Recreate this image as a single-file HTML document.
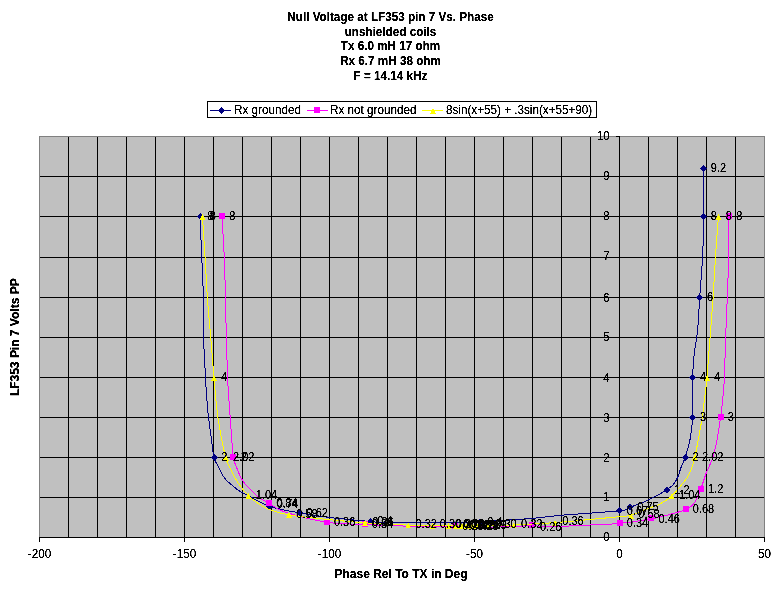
<!DOCTYPE html>
<html lang="en"><head><meta charset="utf-8"><title>Null Voltage at LF353 pin 7 Vs. Phase</title>
<style>html,body{margin:0;padding:0;background:#fff;overflow:hidden}svg{display:block}text{font-family:"Liberation Sans", Arial, sans-serif;font-size:11.7px;fill:#000}.b{font-weight:bold;font-size:11.7px}.ln{fill:none;stroke-width:1;shape-rendering:crispEdges}.g{shape-rendering:crispEdges}</style></head><body>
<svg width="777" height="590" viewBox="0 0 777 590">
<rect x="0" y="0" width="777" height="590" fill="#fff"/>
<defs><filter id="c" x="0" y="0" width="777" height="590" filterUnits="userSpaceOnUse" color-interpolation-filters="sRGB"><feComponentTransfer><feFuncA type="linear" slope="3" intercept="-0.6"/></feComponentTransfer></filter></defs>
<rect class="g" x="207.5" y="101.5" width="389" height="16" fill="#fff" stroke="#000" stroke-width="1"/>
<line class="ln" x1="210" y1="110.5" x2="231" y2="110.5" stroke="#000080"/>
<path class="g" d="M221 107h1v1h1v1h1v3h-1v1h-1v1h-1v-1h-1v-1h-1v-3h1v-1h1z" fill="#000080"/>
<line class="ln" x1="307" y1="110.5" x2="328" y2="110.5" stroke="#ff00ff"/>
<rect class="g" x="314" y="107.0" width="6" height="6" fill="#ff00ff"/>
<line class="ln" x1="422" y1="110.5" x2="443" y2="110.5" stroke="#ffff00"/>
<path class="g" d="M433 107.8 l3 6 h-6 z" fill="#ffff00"/>
<rect x="39" y="136" width="726" height="402" fill="#c0c0c0"/>
<g class="g" fill="#000">
<rect x="68" y="136" width="1" height="402"/>
<rect x="97" y="136" width="1" height="402"/>
<rect x="126" y="136" width="1" height="402"/>
<rect x="155" y="136" width="1" height="402"/>
<rect x="184" y="136" width="1" height="402"/>
<rect x="213" y="136" width="1" height="402"/>
<rect x="242" y="136" width="1" height="402"/>
<rect x="271" y="136" width="1" height="402"/>
<rect x="300" y="136" width="1" height="402"/>
<rect x="329" y="136" width="1" height="402"/>
<rect x="358" y="136" width="1" height="402"/>
<rect x="387" y="136" width="1" height="402"/>
<rect x="416" y="136" width="1" height="402"/>
<rect x="445" y="136" width="1" height="402"/>
<rect x="474" y="136" width="1" height="402"/>
<rect x="503" y="136" width="1" height="402"/>
<rect x="532" y="136" width="1" height="402"/>
<rect x="561" y="136" width="1" height="402"/>
<rect x="590" y="136" width="1" height="402"/>
<rect x="619" y="136" width="1" height="402"/>
<rect x="648" y="136" width="1" height="402"/>
<rect x="677" y="136" width="1" height="402"/>
<rect x="706" y="136" width="1" height="402"/>
<rect x="735" y="136" width="1" height="402"/>
<rect x="39" y="176" width="726" height="1"/>
<rect x="39" y="216" width="726" height="1"/>
<rect x="39" y="257" width="726" height="1"/>
<rect x="39" y="297" width="726" height="1"/>
<rect x="39" y="337" width="726" height="1"/>
<rect x="39" y="377" width="726" height="1"/>
<rect x="39" y="417" width="726" height="1"/>
<rect x="39" y="457" width="726" height="1"/>
<rect x="39" y="497" width="726" height="1"/>
</g>
<g class="g" fill="#808080">
<rect x="39" y="136" width="726" height="1"/>
<rect x="39" y="136" width="1" height="402"/>
<rect x="764" y="136" width="1" height="402"/>
</g>
<g class="g" fill="#000">
<rect x="39" y="537" width="726" height="1"/>
<rect x="619" y="136" width="1" height="402"/>
<rect x="39" y="537" width="1" height="5"/>
<rect x="184" y="537" width="1" height="5"/>
<rect x="329" y="537" width="1" height="5"/>
<rect x="474" y="537" width="1" height="5"/>
<rect x="619" y="537" width="1" height="5"/>
<rect x="764" y="537" width="1" height="5"/>
<rect x="616" y="136" width="4" height="1"/>
<rect x="616" y="176" width="4" height="1"/>
<rect x="616" y="216" width="4" height="1"/>
<rect x="616" y="257" width="4" height="1"/>
<rect x="616" y="297" width="4" height="1"/>
<rect x="616" y="337" width="4" height="1"/>
<rect x="616" y="377" width="4" height="1"/>
<rect x="616" y="417" width="4" height="1"/>
<rect x="616" y="457" width="4" height="1"/>
<rect x="616" y="497" width="4" height="1"/>
<rect x="616" y="537" width="4" height="1"/>
</g>
<path class="ln" d="M200.0 216.5 C200.3 223.8 201.3 246.5 201.9 260.0 C202.5 273.5 203.1 285.0 203.4 297.5 C203.7 310.0 203.2 321.7 203.5 335.0 C203.8 348.3 204.9 365.8 205.5 377.5 C206.1 389.2 206.8 398.3 207.3 405.0 C207.8 411.7 207.9 411.7 208.6 417.5 C209.3 423.3 210.6 433.3 211.5 440.0 C212.4 446.7 213.0 453.3 214.0 457.5 C215.0 461.7 215.7 461.6 217.4 465.0 C219.2 468.4 222.2 474.8 224.5 478.0 C226.8 481.2 228.3 482.1 230.9 484.3 C233.5 486.5 237.1 489.5 239.9 491.4 C242.8 493.3 243.1 493.0 248.0 495.5 C252.9 498.0 260.9 503.5 269.5 506.4 C278.1 509.3 289.4 511.0 299.3 512.8 C309.2 514.6 317.2 515.9 329.0 517.4 C340.8 518.9 360.3 520.6 370.0 521.5 C379.7 522.4 379.3 522.5 387.0 522.7 C394.7 522.9 406.3 522.7 416.0 522.6 C425.7 522.5 434.3 522.4 445.0 522.3 C455.7 522.2 470.3 522.1 480.0 521.8 C489.7 521.5 494.3 521.0 503.0 520.4 C511.7 519.8 522.3 519.2 532.0 518.4 C541.7 517.5 546.4 516.6 561.0 515.3 C575.6 514.0 608.0 512.1 619.5 510.8 C631.0 509.5 625.2 509.1 630.0 507.3 C634.8 505.5 641.8 503.1 648.0 500.2 C654.2 497.3 662.7 492.4 667.0 489.7 C671.3 487.0 671.9 486.1 673.7 484.0 C675.5 481.9 676.7 479.6 677.9 476.8 C679.1 474.0 679.9 470.5 681.1 467.3 C682.3 464.1 683.6 462.3 685.1 457.5 C686.6 452.7 689.0 445.3 690.2 438.6 C691.5 431.9 692.2 427.7 692.6 417.5 C693.0 407.3 692.4 387.9 692.6 377.5 C692.9 367.1 693.3 362.9 694.1 355.0 C694.9 347.1 696.7 339.6 697.6 330.0 C698.5 320.4 698.9 310.0 699.7 297.5 C700.6 285.0 702.1 268.5 702.7 255.0 C703.3 241.5 703.4 230.9 703.5 216.5 C703.6 202.1 703.5 176.5 703.5 168.5" stroke="#000080"/>
<path class="g" d="M196.5 216.5 l3.5 -3.5 l3.5 3.5 l-3.5 3.5 z" fill="#000080"/>
<path class="g" d="M210.5 457.5 l3.5 -3.5 l3.5 3.5 l-3.5 3.5 z" fill="#000080"/>
<path class="g" d="M266.0 506.4 l3.5 -3.5 l3.5 3.5 l-3.5 3.5 z" fill="#000080"/>
<path class="g" d="M295.8 512.8 l3.5 -3.5 l3.5 3.5 l-3.5 3.5 z" fill="#000080"/>
<path class="g" d="M366.5 521.5 l3.5 -3.5 l3.5 3.5 l-3.5 3.5 z" fill="#000080"/>
<path class="g" d="M476.5 521.8 l3.5 -3.5 l3.5 3.5 l-3.5 3.5 z" fill="#000080"/>
<path class="g" d="M616.0 510.8 l3.5 -3.5 l3.5 3.5 l-3.5 3.5 z" fill="#000080"/>
<path class="g" d="M626.5 507.3 l3.5 -3.5 l3.5 3.5 l-3.5 3.5 z" fill="#000080"/>
<path class="g" d="M663.5 489.7 l3.5 -3.5 l3.5 3.5 l-3.5 3.5 z" fill="#000080"/>
<path class="g" d="M681.6 457.5 l3.5 -3.5 l3.5 3.5 l-3.5 3.5 z" fill="#000080"/>
<path class="g" d="M689.1 417.5 l3.5 -3.5 l3.5 3.5 l-3.5 3.5 z" fill="#000080"/>
<path class="g" d="M689.1 377.5 l3.5 -3.5 l3.5 3.5 l-3.5 3.5 z" fill="#000080"/>
<path class="g" d="M696.2 297.5 l3.5 -3.5 l3.5 3.5 l-3.5 3.5 z" fill="#000080"/>
<path class="g" d="M700.0 216.5 l3.5 -3.5 l3.5 3.5 l-3.5 3.5 z" fill="#000080"/>
<path class="g" d="M700.0 168.5 l3.5 -3.5 l3.5 3.5 l-3.5 3.5 z" fill="#000080"/>
<path class="ln" d="M222.0 216.5 C222.4 223.8 223.8 246.5 224.4 260.0 C225.0 273.5 225.1 285.0 225.4 297.5 C225.7 310.0 225.9 321.7 226.3 335.0 C226.7 348.3 227.1 365.8 227.6 377.5 C228.1 389.2 228.9 398.3 229.3 405.0 C229.7 411.7 229.8 411.7 230.2 417.5 C230.6 423.3 231.3 433.4 231.8 440.0 C232.3 446.6 232.8 453.1 233.4 457.3 C234.0 461.5 234.1 461.1 235.6 465.0 C237.1 468.9 239.8 476.1 242.5 480.4 C245.2 484.7 248.5 487.7 251.5 490.7 C254.5 493.7 257.6 496.4 260.5 498.5 C263.4 500.6 264.8 500.9 268.9 503.2 C273.0 505.4 275.4 508.8 285.0 512.0 C294.6 515.2 313.4 520.1 326.6 522.2 C339.9 524.3 348.9 523.8 364.5 524.5 C380.1 525.2 403.2 526.1 420.0 526.5 C436.8 526.9 451.7 526.7 465.0 526.8 C478.3 526.9 488.9 527.2 500.0 527.0 C511.1 526.8 523.4 525.8 531.7 525.8 C540.0 525.8 540.3 526.8 550.0 526.7 C559.7 526.6 578.4 525.5 590.0 525.0 C601.6 524.5 609.3 524.4 619.5 523.4 C629.7 522.4 642.8 520.4 651.2 518.9 C659.6 517.4 664.3 515.9 670.0 514.4 C675.7 512.9 681.7 511.2 685.5 509.6 C689.3 508.0 691.1 506.7 693.0 504.7 C694.9 502.7 695.7 500.3 697.0 497.7 C698.3 495.1 699.5 492.6 700.7 489.3 C702.0 486.0 703.5 480.9 704.5 478.0 C705.5 475.1 705.2 475.4 706.6 472.0 C708.0 468.6 711.0 463.1 712.8 457.5 C714.6 451.9 716.0 445.3 717.3 438.6 C718.6 431.9 719.6 423.9 720.5 417.5 C721.4 411.1 722.1 406.7 722.7 400.0 C723.4 393.3 723.9 388.3 724.4 377.5 C724.9 366.7 725.2 348.3 725.7 335.0 C726.2 321.7 726.8 310.8 727.3 297.5 C727.8 284.2 728.4 268.5 728.7 255.0 C729.0 241.5 729.0 222.9 729.0 216.5" stroke="#ff00ff"/>
<rect class="g" x="219" y="213.0" width="6" height="6" fill="#ff00ff"/>
<rect class="g" x="230.4" y="453.8" width="6" height="6" fill="#ff00ff"/>
<rect class="g" x="265.9" y="499.7" width="6" height="6" fill="#ff00ff"/>
<rect class="g" x="323.6" y="518.7" width="6" height="6" fill="#ff00ff"/>
<rect class="g" x="361.5" y="521.0" width="6" height="6" fill="#ff00ff"/>
<rect class="g" x="452" y="522.9" width="6" height="6" fill="#ff00ff"/>
<rect class="g" x="467" y="523.0" width="6" height="6" fill="#ff00ff"/>
<rect class="g" x="528.7" y="522.3" width="6" height="6" fill="#ff00ff"/>
<rect class="g" x="616.5" y="519.9" width="6" height="6" fill="#ff00ff"/>
<rect class="g" x="648.2" y="515.4" width="6" height="6" fill="#ff00ff"/>
<rect class="g" x="682.5" y="506.1" width="6" height="6" fill="#ff00ff"/>
<rect class="g" x="697.7" y="485.8" width="6" height="6" fill="#ff00ff"/>
<rect class="g" x="717.5" y="414.0" width="6" height="6" fill="#ff00ff"/>
<rect class="g" x="726" y="213.0" width="6" height="6" fill="#ff00ff"/>
<path class="ln" d="M202.5 216.5 C202.9 223.8 204.4 246.5 205.2 260.0 C206.0 273.5 206.5 285.0 207.4 297.5 C208.3 310.0 209.4 321.7 210.5 335.0 C211.6 348.3 213.0 365.8 214.0 377.5 C215.0 389.2 215.7 398.3 216.4 405.0 C217.1 411.7 217.1 411.7 218.0 417.5 C218.9 423.3 220.5 433.3 221.8 440.0 C223.1 446.7 224.6 453.3 225.7 457.5 C226.8 461.7 226.7 461.0 228.6 465.0 C230.5 469.0 234.0 476.6 237.3 481.7 C240.6 486.8 244.6 492.0 248.5 495.9 C252.4 499.8 257.0 502.6 260.5 504.9 C264.0 507.2 264.8 507.8 269.5 509.5 C274.2 511.2 279.1 513.3 289.0 515.0 C298.9 516.7 316.3 518.3 329.0 519.6 C341.7 520.9 351.8 521.9 365.0 522.8 C378.2 523.7 396.9 524.7 408.2 525.1 C419.4 525.5 425.8 525.2 432.5 525.3 C439.2 525.4 439.2 525.5 448.5 525.5 C457.8 525.5 477.1 525.6 488.0 525.5 C498.9 525.4 506.4 525.2 513.7 525.0 C521.0 524.8 525.1 524.4 532.0 524.0 C538.9 523.6 545.3 523.4 555.0 522.6 C564.7 521.9 579.3 520.5 590.0 519.5 C600.7 518.5 612.2 517.4 619.0 516.7 C625.8 516.0 626.2 516.6 631.0 515.3 C635.8 513.9 643.2 510.5 648.0 508.6 C652.8 506.7 656.0 506.1 660.0 504.0 C664.0 501.9 668.5 498.8 671.8 495.9 C675.1 493.0 677.5 489.7 680.0 486.7 C682.5 483.7 685.2 480.5 687.0 477.7 C688.8 474.9 689.7 473.4 691.0 470.0 C692.3 466.6 693.4 462.8 694.7 457.5 C696.0 452.2 697.4 444.7 698.6 438.0 C699.9 431.3 701.2 423.8 702.2 417.5 C703.2 411.2 703.6 406.7 704.4 400.0 C705.2 393.3 706.0 389.2 707.0 377.5 C708.0 365.8 709.6 343.3 710.6 330.0 C711.6 316.7 712.3 310.0 713.1 297.5 C713.9 285.0 714.7 268.5 715.6 255.0 C716.5 241.5 717.9 222.9 718.4 216.5" stroke="#ffff00"/>
<path class="g" d="M202.5 213.8 l3 6 h-6 z" fill="#ffff00"/>
<path class="g" d="M214 374.8 l3 6 h-6 z" fill="#ffff00"/>
<path class="g" d="M225.7 454.8 l3 6 h-6 z" fill="#ffff00"/>
<path class="g" d="M248.5 493.2 l3 6 h-6 z" fill="#ffff00"/>
<path class="g" d="M289 512.3 l3 6 h-6 z" fill="#ffff00"/>
<path class="g" d="M365 520.0999999999999 l3 6 h-6 z" fill="#ffff00"/>
<path class="g" d="M408.2 522.4 l3 6 h-6 z" fill="#ffff00"/>
<path class="g" d="M432.5 522.5999999999999 l3 6 h-6 z" fill="#ffff00"/>
<path class="g" d="M448.5 522.6999999999999 l3 6 h-6 z" fill="#ffff00"/>
<path class="g" d="M456 522.9 l3 6 h-6 z" fill="#ffff00"/>
<path class="g" d="M462 523.0 l3 6 h-6 z" fill="#ffff00"/>
<path class="g" d="M467 523.0999999999999 l3 6 h-6 z" fill="#ffff00"/>
<path class="g" d="M472 523.0999999999999 l3 6 h-6 z" fill="#ffff00"/>
<path class="g" d="M478 523.0 l3 6 h-6 z" fill="#ffff00"/>
<path class="g" d="M488 522.6999999999999 l3 6 h-6 z" fill="#ffff00"/>
<path class="g" d="M513.7 522.3 l3 6 h-6 z" fill="#ffff00"/>
<path class="g" d="M555 519.9 l3 6 h-6 z" fill="#ffff00"/>
<path class="g" d="M631 512.5999999999999 l3 6 h-6 z" fill="#ffff00"/>
<path class="g" d="M671.8 493.2 l3 6 h-6 z" fill="#ffff00"/>
<path class="g" d="M694.7 454.8 l3 6 h-6 z" fill="#ffff00"/>
<path class="g" d="M707 374.8 l3 6 h-6 z" fill="#ffff00"/>
<path class="g" d="M718.4 213.8 l3 6 h-6 z" fill="#ffff00"/>
<g filter="url(#c)">
<text transform="translate(390.5 20.8) scale(1.0 1.05)" class="b" text-anchor="middle">Null Voltage at LF353 pin 7 Vs. Phase</text>
<text transform="translate(390.5 35.5) scale(1.0 1.05)" class="b" text-anchor="middle">unshielded coils</text>
<text transform="translate(390.5 50.2) scale(1.0 1.05)" class="b" text-anchor="middle">Tx 6.0 mH 17 ohm</text>
<text transform="translate(390.5 64.9) scale(1.0 1.05)" class="b" text-anchor="middle">Rx 6.7 mH 38 ohm</text>
<text transform="translate(390.5 79.6) scale(1.0 1.05)" class="b" text-anchor="middle">F = 14.14 kHz</text>
<text transform="translate(234 114) scale(1.0 1.05)">Rx grounded</text>
<text transform="translate(330 114) scale(1.0 1.05)">Rx not grounded</text>
<text transform="translate(446 114) scale(1.0 1.05)">8sin(x+55) + .3sin(x+55+90)</text>
<text transform="translate(39.5 558) scale(1.0 1.05)" text-anchor="middle">-200</text>
<text transform="translate(184.5 558) scale(1.0 1.05)" text-anchor="middle">-150</text>
<text transform="translate(329.5 558) scale(1.0 1.05)" text-anchor="middle">-100</text>
<text transform="translate(474.5 558) scale(1.0 1.05)" text-anchor="middle">-50</text>
<text transform="translate(619.5 558) scale(1.0 1.05)" text-anchor="middle">0</text>
<text transform="translate(764.5 558) scale(1.0 1.05)" text-anchor="middle">50</text>
<text transform="translate(609.5 140) scale(0.97 1.05)" text-anchor="end">10</text>
<text transform="translate(609.5 180) scale(0.97 1.05)" text-anchor="end">9</text>
<text transform="translate(609.5 220) scale(0.97 1.05)" text-anchor="end">8</text>
<text transform="translate(609.5 260) scale(0.97 1.05)" text-anchor="end">7</text>
<text transform="translate(609.5 301.5) scale(0.97 1.05)" text-anchor="end">6</text>
<text transform="translate(609.5 341) scale(0.97 1.05)" text-anchor="end">5</text>
<text transform="translate(609.5 381.5) scale(0.97 1.05)" text-anchor="end">4</text>
<text transform="translate(609.5 421.5) scale(0.97 1.05)" text-anchor="end">3</text>
<text transform="translate(609.5 461.5) scale(0.97 1.05)" text-anchor="end">2</text>
<text transform="translate(609.5 501) scale(0.97 1.05)" text-anchor="end">1</text>
<text transform="translate(609.5 541) scale(0.97 1.05)" text-anchor="end">0</text>
<text transform="translate(401 578) scale(1.0 1.05)" class="b" style="font-size:12px" text-anchor="middle">Phase Rel To TX in Deg</text>
<text transform="translate(18.6 337.3) rotate(-90) scale(1.0 1.05)" class="b" style="font-size:12px" text-anchor="middle">LF353 Pin 7 Volts PP</text>
<text transform="translate(207.3 220.3) scale(0.94 1.05)">8</text>
<text transform="translate(221.3 461.3) scale(0.94 1.05)">2</text>
<text transform="translate(276.8 508.4) scale(0.94 1.05)">0.74</text>
<text transform="translate(306.6 516.6) scale(0.94 1.05)">0.62</text>
<text transform="translate(377.3 525.3) scale(0.94 1.05)">0.4</text>
<text transform="translate(487.3 525.6) scale(0.94 1.05)">0.4</text>
<text transform="translate(626.8 514.6) scale(0.94 1.05)">0.67</text>
<text transform="translate(637.3 511.1) scale(0.94 1.05)">0.75</text>
<text transform="translate(674.3 493.5) scale(0.94 1.05)">1.2</text>
<text transform="translate(692.4 461.3) scale(0.94 1.05)">2</text>
<text transform="translate(699.9 421.3) scale(0.94 1.05)">3</text>
<text transform="translate(699.9 381.3) scale(0.94 1.05)">4</text>
<text transform="translate(707.0 301.3) scale(0.94 1.05)">6</text>
<text transform="translate(710.8 220.3) scale(0.94 1.05)">8</text>
<text transform="translate(710.8 172.3) scale(0.94 1.05)">9.2</text>
<text transform="translate(229.3 220.3) scale(0.94 1.05)">8</text>
<text transform="translate(240.7 461.1) scale(0.94 1.05)">2</text>
<text transform="translate(276.2 507.0) scale(0.94 1.05)">0.84</text>
<text transform="translate(333.9 526.0) scale(0.94 1.05)">0.36</text>
<text transform="translate(371.8 528.3) scale(0.94 1.05)">0.34</text>
<text transform="translate(462.3 530.2) scale(0.94 1.05)">0.28</text>
<text transform="translate(477.3 530.3) scale(0.94 1.05)">0.28</text>
<text transform="translate(540.0 530.6) scale(0.94 1.05)">0.26</text>
<text transform="translate(626.8 527.2) scale(0.94 1.05)">0.34</text>
<text transform="translate(658.5 522.7) scale(0.94 1.05)">0.46</text>
<text transform="translate(692.8 513.4) scale(0.94 1.05)">0.68</text>
<text transform="translate(708.0 493.1) scale(0.94 1.05)">1.2</text>
<text transform="translate(727.8 421.3) scale(0.94 1.05)">3</text>
<text transform="translate(736.3 220.3) scale(0.94 1.05)">8</text>
<text transform="translate(209.8 220.3) scale(0.94 1.05)">8</text>
<text transform="translate(221.3 381.3) scale(0.94 1.05)">4</text>
<text transform="translate(233.0 461.3) scale(0.94 1.05)">2.02</text>
<text transform="translate(255.8 498.7) scale(0.94 1.05)">1.04</text>
<text transform="translate(296.3 517.8) scale(0.94 1.05)">0.58</text>
<text transform="translate(372.3 525.6) scale(0.94 1.05)">0.36</text>
<text transform="translate(415.5 527.9) scale(0.94 1.05)">0.32</text>
<text transform="translate(439.8 528.1) scale(0.94 1.05)">0.30</text>
<text transform="translate(455.8 528.2) scale(0.94 1.05)">0.30</text>
<text transform="translate(463.3 528.4) scale(0.94 1.05)">0.29</text>
<text transform="translate(469.3 528.5) scale(0.94 1.05)">0.28</text>
<text transform="translate(474.3 528.6) scale(0.94 1.05)">0.28</text>
<text transform="translate(479.3 528.6) scale(0.94 1.05)">0.28</text>
<text transform="translate(485.3 528.5) scale(0.94 1.05)">0.29</text>
<text transform="translate(495.3 528.2) scale(0.94 1.05)">0.30</text>
<text transform="translate(521.0 527.8) scale(0.94 1.05)">0.32</text>
<text transform="translate(562.3 525.4) scale(0.94 1.05)">0.36</text>
<text transform="translate(638.3 518.1) scale(0.94 1.05)">0.58</text>
<text transform="translate(679.1 498.7) scale(0.94 1.05)">1.04</text>
<text transform="translate(702.0 461.3) scale(0.94 1.05)">2.02</text>
<text transform="translate(714.3 381.3) scale(0.94 1.05)">4</text>
<text transform="translate(725.7 220.3) scale(0.94 1.05)">8</text>
</g>
</svg></body></html>
